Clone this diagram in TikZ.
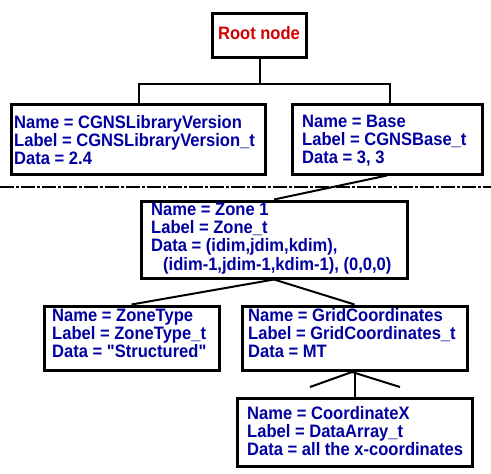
\documentclass[tikz,border=0pt]{standalone}
\usepackage{fontspec}
\setmainfont[FakeStretch=0.92,Ligatures=TeXOff]{Liberation Sans}
\usetikzlibrary{calc}
\definecolor{txtblue}{RGB}{0,0,160}
\definecolor{rootred}{RGB}{210,0,0}
\newcommand{\boxlines}[1]{\begin{tabular}[t]{@{}l@{}}#1\end{tabular}}
\begin{document}
\begin{tikzpicture}[x=1pt,y=-1pt,
  box/.style={draw,line width=3pt,inner sep=0pt,anchor=north west,rectangle},
  txt/.style={inner sep=0pt,anchor=base west,text=txtblue,font=\fontsize{18}{18}\selectfont\bfseries},
  conn/.style={line width=2pt},
  sep/.style={line width=1.5pt,dash pattern=on 14pt off 2pt on 3pt off 2pt}]
\useasboundingbox (0,0) rectangle (491,474);
% boxes
\node[box,minimum width=94pt,minimum height=44pt] (root) at (211,11.5) {};
\node[box,minimum width=254pt,minimum height=70pt] (lib) at (9.5,102.5) {};
\node[box,minimum width=190pt,minimum height=70pt] (base) at (290.5,102.5) {};
\node[box,minimum width=266pt,minimum height=77pt] (zone) at (139.5,199.5) {};
\node[box,minimum width=175pt,minimum height=64pt] (ztype) at (42.5,304.5) {};
\node[box,minimum width=225pt,minimum height=64pt] (grid) at (240.5,304.5) {};
\node[box,minimum width=235pt,minimum height=68pt] (cx) at (235.5,396.5) {};
% texts
\node[txt,anchor=base,text=rootred] (roott) at (259,39.5) {Root node};
\node[txt] (libt) at (14,128) {\boxlines{Name = CGNSLibraryVersion\\ Label = CGNSLibraryVersion\_t\\ Data = 2.4}};
\node[txt] (baset) at (302,127) {\boxlines{Name = Base\\ Label = CGNSBase\_t\\ Data = 3, 3}};
\node[txt] (zonet) at (151,215) {\boxlines{Name = Zone 1\\ Label = Zone\_t\\ Data = (idim,jdim,kdim),\\ \hspace{12pt}(idim-1,jdim-1,kdim-1), (0,0,0)}};
\node[txt] (ztypet) at (52,321) {\boxlines{Name = ZoneType\\ Label = ZoneType\_t\\ Data = "Structured"}};
\node[txt] (gridt) at (248,321) {\boxlines{Name = GridCoordinates\\ Label = GridCoordinates\_t\\ Data = MT}};
\node[txt] (cxt) at (247,419) {\boxlines{Name = CoordinateX\\ Label = DataArray\_t\\ Data = all the x-coordinates}};
% connectors
\coordinate (jl) at (139,84);
\coordinate (jr) at (390,84);
\draw[conn] (root.south) -- (root.south |- jl);
\draw[conn] (lib.north -| jl) -- (jl) -- (jr) -- (base.north -| jr);
\draw[conn] (base.south) -- (zone.north);
\draw[conn] (zone.south) -- (ztype.north);
\draw[conn] (zone.south) -- (grid.north);
\draw[conn] (grid.south) -- (cx.north);
\coordinate (apex) at (352,372);
\coordinate (dl) at (310,387);
\coordinate (dr) at (400,387);
\draw[conn] (dl) -- (apex) -- (dr);
% separator
\coordinate (sl) at (0,187);
\coordinate (sr) at (491,187);
\draw[sep] (sl) -- (sr);
\end{tikzpicture}
\end{document}
